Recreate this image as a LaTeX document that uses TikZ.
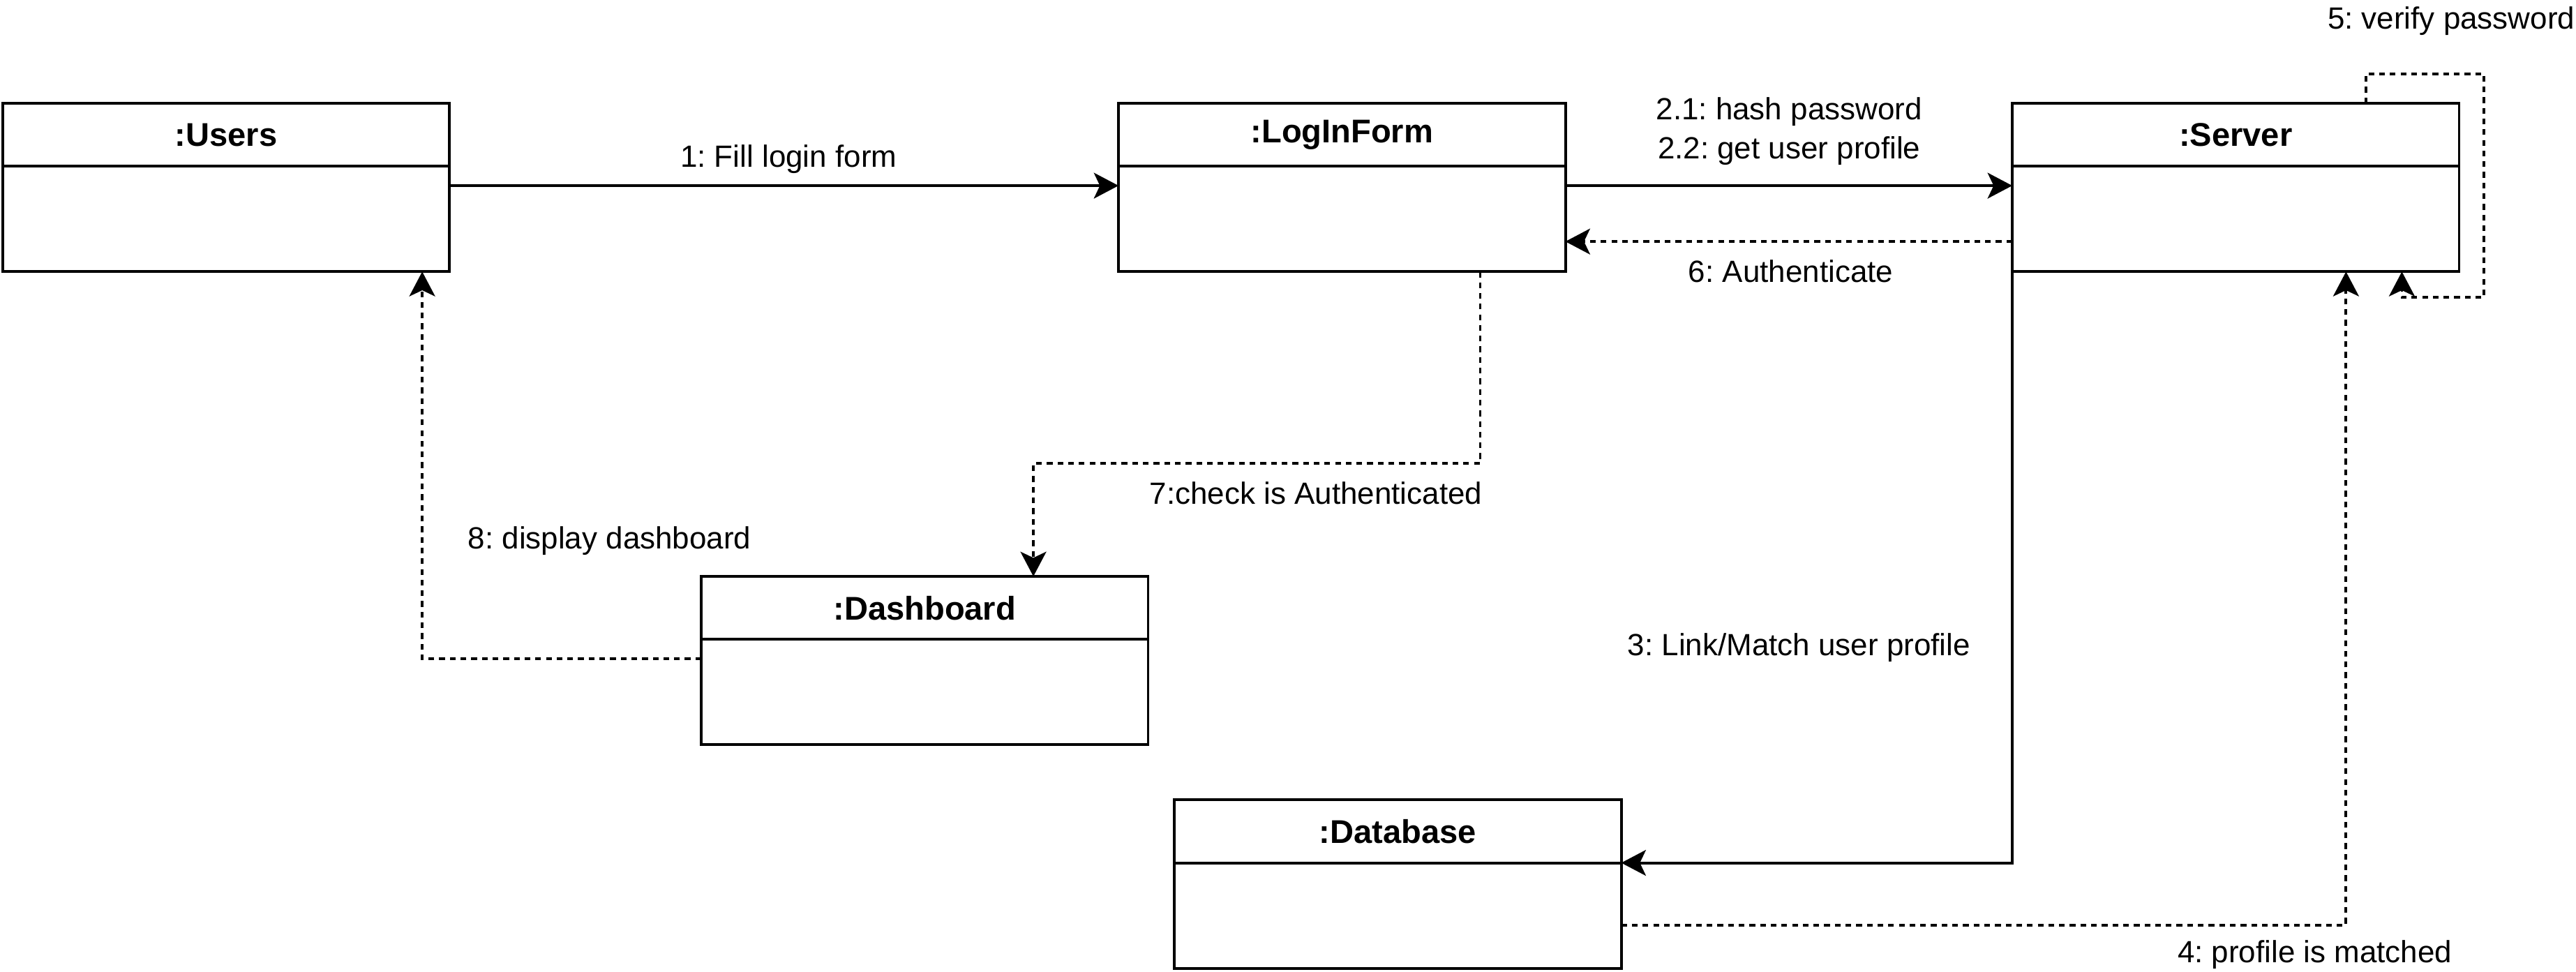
\documentclass[tikz,border=0pt]{standalone}
\usepackage{fontspec}
\setmainfont{Liberation Sans}
\frenchspacing
\usepackage{tikz}
\usetikzlibrary{matrix}
\usetikzlibrary{arrows.meta}

\begin{document}
\begin{tikzpicture}
  [x=0.6pt, y=-0.6pt,
   obj/.style={matrix of nodes, inner sep=0pt, outer sep=0pt, anchor=north west,
      nodes={draw, line width=1pt, minimum width=163.2pt, inner sep=0pt, outer sep=0pt, anchor=center},
      row sep=-1pt,
      nodes in empty cells,
      row 1/.style={nodes={minimum height=23pt, font=\fontsize{12}{14}\selectfont\bfseries}},
      row 2/.style={nodes={minimum height=38.5pt}},
   },
   msg/.style={line width=1pt, -{Stealth[length=9pt, width=9.4pt, inset=2.2pt]}},
   reply/.style={msg, dash pattern=on 2.1pt off 1.8pt},
   lbl/.style={font=\fontsize{11.2}{14.4}\selectfont, inner sep=0pt, align=center},
  ]
  \useasboundingbox (0,0) rectangle (1568,591.2);

  \matrix[obj] (users) at (0.8,62)
         {
           :Users \\
                  \\
         };
  \matrix[obj] (login) at (680,62)
         {
           :LogInForm \\
                      \\
         };
  \matrix[obj] (server) at (1224,62)
         {
           :Server \\
                   \\
         };
  \matrix[obj] (dashboard) at (426,350)
         {
           :Dashboard \\
                      \\
         };
  \matrix[obj] (database) at (714,486)
         {
           :Database \\
                     \\
         };

  \coordinate (m1) at (0,113);
  \coordinate (m6) at (0,147);
  \coordinate (m4) at (1428,563);
  \coordinate (v0) at (1440,45);
  \coordinate (v1) at (1512,45);
  \coordinate (v2) at (1462,181);
  \coordinate (k1) at (901,282);
  \coordinate (k2) at (629,282);
  \coordinate (d8) at (257,401);

  \draw[msg] (users-2-1.east |- m1) -- (login-2-1.west |- m1);
  \draw[msg] (login-2-1.east |- m1) -- (server-2-1.west |- m1);
  \draw[msg] (server-2-1.south west) |- (database-2-1.north east);
  \draw[reply] (database-2-1.east |- m4) -| (server-2-1.south -| m4);
  \draw[reply] (server-1-1.north -| v0) -- (v0) -- (v1) |- (v2) -- (server-2-1.south -| v2);
  \draw[reply] (server-2-1.west |- m6) -- (login-2-1.east |- m6);
  \draw[reply] (login-2-1.south -| k1) |- (k2) -- (dashboard-1-1.north -| k2);
  \draw[reply] (dashboard-2-1.west |- d8) -| (users-2-1.south -| d8);

  \node[lbl] (fill) at (480,97) {1: Fill login form};
  \node[lbl] (hash) at (1089,80) {2.1: hash password\\2.2: get user profile};
  \node[lbl] (link) at (1095,394) {3: Link/Match user profile};
  \node[lbl] (matched) at (1409,581) {4: profile is matched};
  \node[lbl] (verify) at (1492,13) {5: verify password};
  \node[lbl] (auth) at (1090,165) {6: Authenticate};
  \node[lbl] (check) at (801,300) {7:check is Authenticated};
  \node[lbl] (display) at (371,329) {8: display dashboard};
\end{tikzpicture}
\end{document}
